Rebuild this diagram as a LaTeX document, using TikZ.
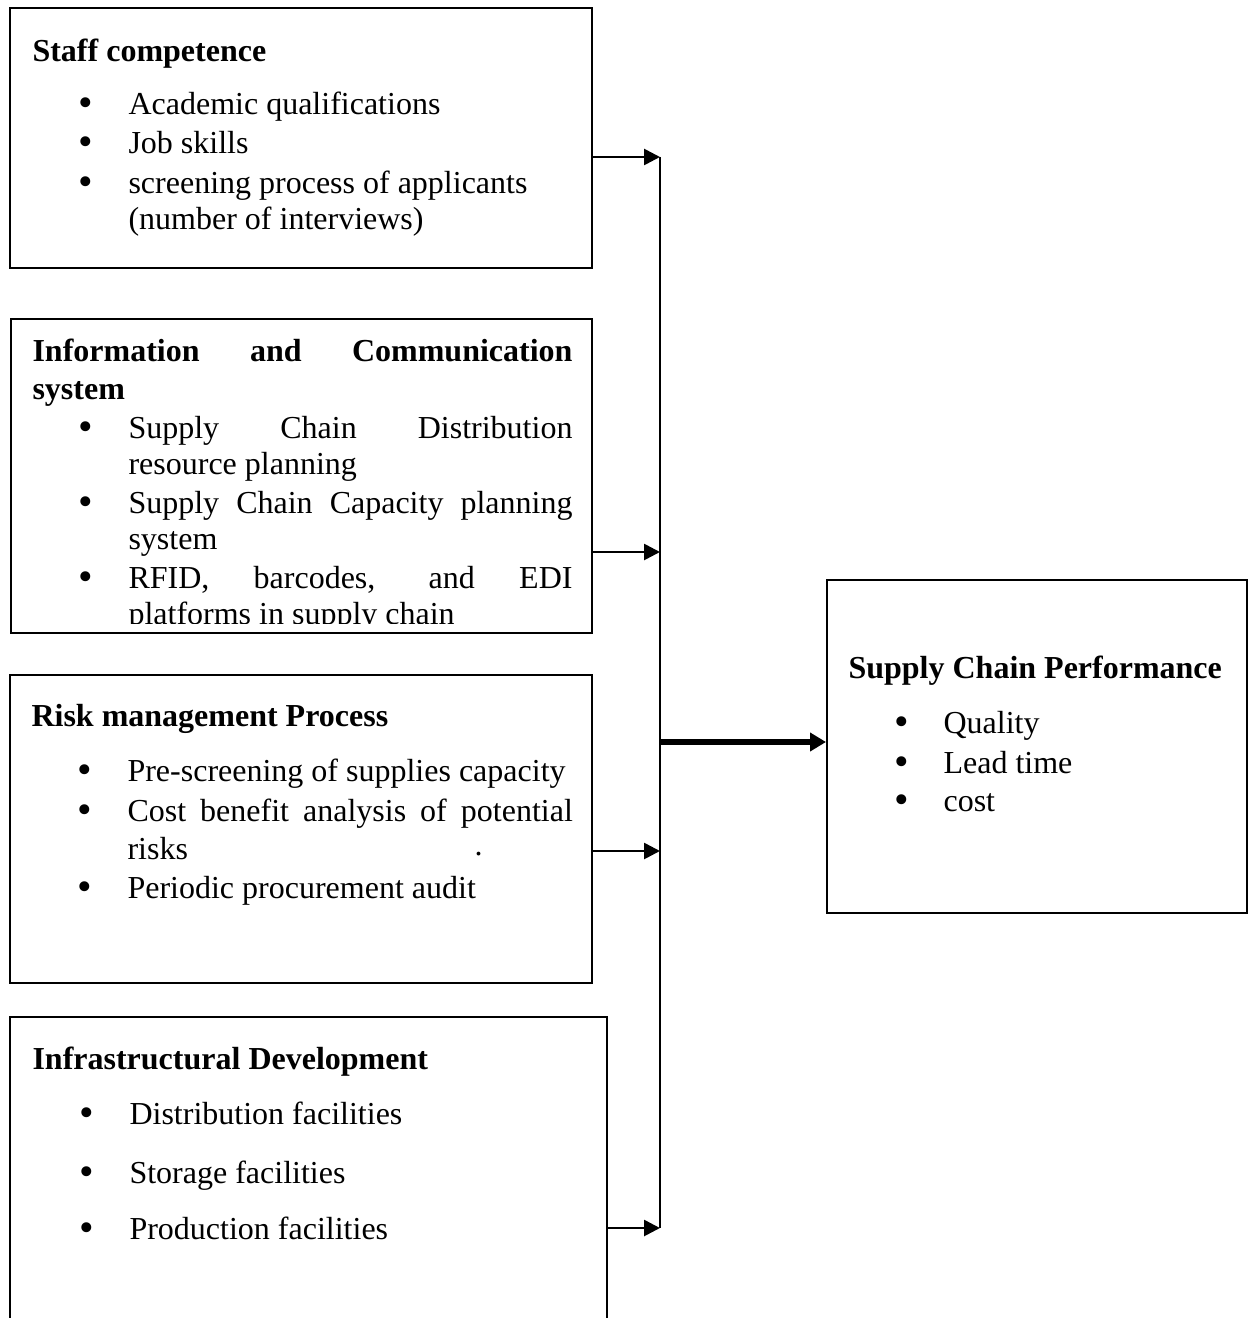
\documentclass[tikz,border=0pt]{standalone}
\usepackage{fontspec}
\setmainfont{Liberation Serif}
\usetikzlibrary{arrows.meta,fit}
\begin{document}
\begin{tikzpicture}[x=0.375pt,y=-0.375pt,
 box/.style={draw, line width=0.75pt, inner sep=0pt},
 frame/.style={inner sep=0pt},
 txt/.style={anchor=west, inner sep=0pt, font=\fontsize{12}{14}\selectfont, text height=8pt, text depth=3pt, yshift=-1.9pt},
 hd/.style={txt, font=\fontsize{12}{14}\selectfont\bfseries},
 bul/.style={anchor=center, inner sep=0pt, font=\fontsize{12}{14}\selectfont, text height=8pt, text depth=3pt, yshift=-2.66pt},
 link/.style={line width=1pt, -{Triangle[length=6pt,width=6pt]}},
 bus/.style={line width=0.75pt},
 mainarrow/.style={line width=1.9pt, -{Triangle[length=6pt,width=6.75pt]}}
]
\newcommand\bigbul{\scalebox{1.3}{•}}
\useasboundingbox (0,0) rectangle (1248,1318);

% ---------- Box 1 ----------
\node[box, fit={(10,8) (592,268)}] (b1) {};
\node[hd] (b1h) at (32,50) {Staff competence};
\node[bul] (b1b1) at (86,103) {\bigbul};
\node[bul] (b1b2) at (86,142) {\bigbul};
\node[bul] (b1b3) at (86,182) {\bigbul};
\node[txt] (b1t1) at (128,103) {Academic qualifications};
\node[txt] (b1t2) at (128,142) {Job skills};
\node[txt] (b1t3) at (128,182) {screening process of applicants};
\node[txt] (b1t4) at (128,218) {(number of interviews)};

% ---------- Box 2 ----------
\node[box, fit={(11,319) (592,633)}] (b2) {};
\node[hd] (b2h1) at (32,350) {\makebox[202.5pt][s]{Information and Communication}};
\node[hd] (b2h2) at (32,388) {system};
\node[bul] (b2b1) at (86,427) {\bigbul};
\node[bul] (b2b2) at (86,502) {\bigbul};
\node[bul] (b2b3) at (86,577) {\bigbul};
\node[txt] (b2t1) at (128,427) {\makebox[166.5pt][s]{Supply Chain Distribution}};
\node[txt] (b2t2) at (128,463) {resource planning};
\node[txt] (b2t3) at (128,502) {\makebox[166.5pt][s]{Supply Chain Capacity planning}};
\node[txt] (b2t4) at (128,538) {system};
\node[txt] (b2t5) at (128,577) {\makebox[166.5pt][s]{RFID, barcodes, and EDI}};
\begin{scope}
  \clip (11,319) rectangle (592,623);
  \node[txt] (b2t6) at (128,613) {platforms in supply chain};
\end{scope}

% ---------- Box 3 ----------
\node[box, fit={(10,675) (592,983)}] (b3) {};
\node[hd] (b3h) at (31,715) {Risk management Process};
\node[bul] (b3b1) at (85,770) {\bigbul};
\node[bul] (b3b2) at (85,810) {\bigbul};
\node[bul] (b3b3) at (85,887) {\bigbul};
\node[txt] (b3t1) at (127,770) {Pre-screening of supplies capacity};
\node[txt] (b3t2) at (127,810) {\makebox[167pt][s]{Cost benefit analysis of potential}};
\node[txt] (b3t3) at (127,848) {risks};
\node[txt] (b3t4) at (127,887) {Periodic procurement audit};
\node[txt] (b3dot) at (474,844) {.};

% ---------- Box 4 (open at the bottom) ----------
\node[frame, fit={(11,1018) (606,1318)}] (b4) {};
\draw[line width=0.75pt] (b4.south west) -- (b4.north west) -- (b4.north east) -- (b4.south east);
\node[hd] (b4h) at (32,1058) {Infrastructural Development};
\node[bul] (b4b1) at (87,1113) {\bigbul};
\node[bul] (b4b2) at (87,1172) {\bigbul};
\node[bul] (b4b3) at (87,1228) {\bigbul};
\node[txt] (b4t1) at (129,1113) {Distribution facilities};
\node[txt] (b4t2) at (129,1172) {Storage facilities};
\node[txt] (b4t3) at (129,1228) {Production facilities};

% ---------- Outcome box ----------
\node[box, fit={(827,580) (1246.5,913)}] (perf) {};
\node[hd] (perfh) at (848,667) {Supply Chain Performance};
\node[bul] (pb1) at (902,722) {\bigbul};
\node[bul] (pb2) at (902,762) {\bigbul};
\node[bul] (pb3) at (902,800) {\bigbul};
\node[txt] (pt1) at (943,722) {Quality};
\node[txt] (pt2) at (943,762) {Lead time};
\node[txt] (pt3) at (943,800) {cost};

% ---------- Connectors ----------
\coordinate (j1) at (660,157);
\coordinate (j2) at (660,552);
\coordinate (j3) at (660,851);
\coordinate (j4) at (660,1228);
\coordinate (jm) at (660,742);

\draw[bus] (j1) -- (j4);
\draw[link] (b1.east |- j1) -- (j1);
\draw[link] (b2.east |- j2) -- (j2);
\draw[link] (b3.east |- j3) -- (j3);
\draw[link] (b4.east |- j4) -- (j4);
\draw[mainarrow] (jm) -- (perf.west |- jm);
\end{tikzpicture}
\end{document}
